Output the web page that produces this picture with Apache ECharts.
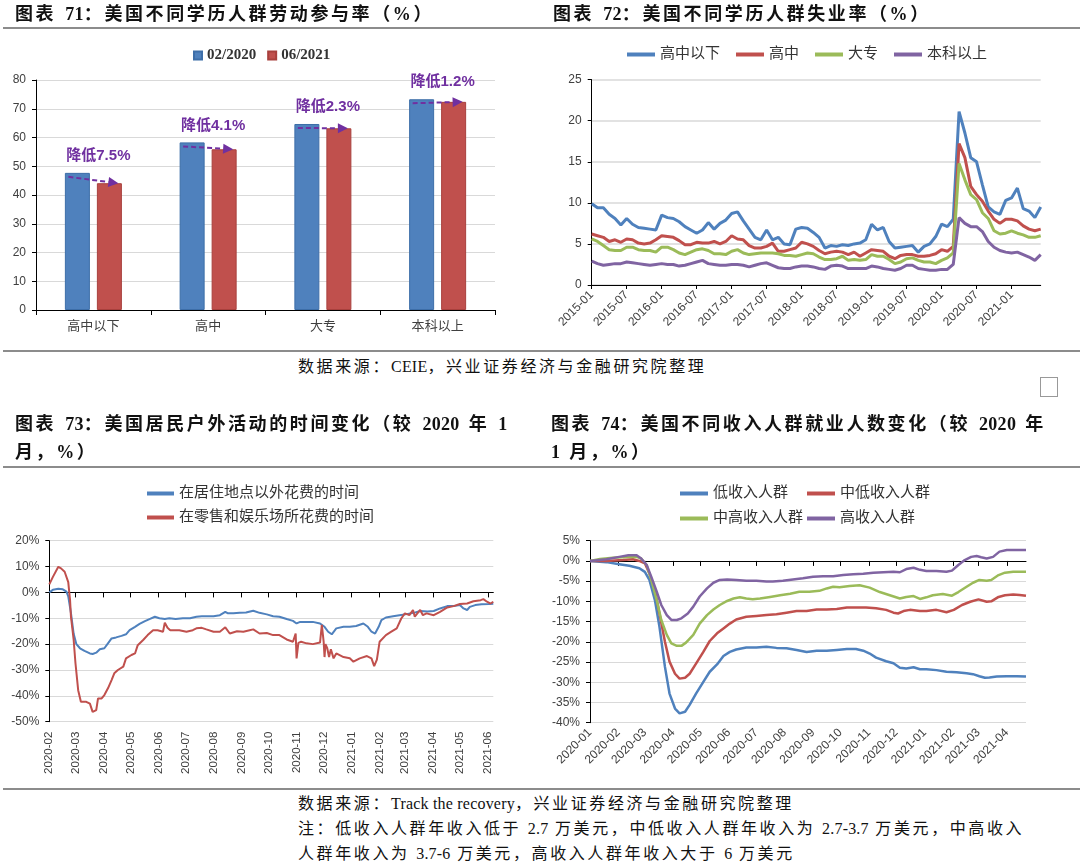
<!DOCTYPE html>
<html><head><meta charset="utf-8">
<script src="https://cdn.jsdelivr.net/npm/echarts@6/dist/echarts.min.js"></script>
<style>
body{margin:0;width:1080px;height:867px;background:#fff;position:relative;overflow:hidden}
.c{position:absolute}
.t{position:absolute;font-family:"Liberation Serif","Noto Sans CJK SC",serif;font-size:18px;font-weight:bold;letter-spacing:2.6px;color:#111;line-height:28px;white-space:nowrap}
.t .n{letter-spacing:0.3px}
.t .sp{display:inline-block;width:9px}
.s{position:absolute;font-family:"Liberation Serif","Noto Sans CJK SC",serif;font-size:16px;letter-spacing:2.6px;color:#111;line-height:25px;white-space:nowrap}
.s .n{letter-spacing:0.2px}
.hl{position:absolute;height:2px;background:#8c8c8c}
</style></head>
<body>
<div id="c71" class="c" style="left:0;top:0;width:540px;height:350px"></div>
<div id="c72" class="c" style="left:540px;top:0;width:540px;height:350px"></div>
<div id="c73" class="c" style="left:0;top:400px;width:540px;height:390px"></div>
<div id="c74" class="c" style="left:540px;top:400px;width:540px;height:390px"></div>

<div class="t" style="left:15px;top:0">图表<span class="sp"></span><span class="n">71</span>：美国不同学历人群劳动参与率（%）</div>
<div class="t" style="left:553px;top:0">图表<span class="sp"></span><span class="n">72</span>：美国不同学历人群失业率（%）</div>
<div class="hl" style="left:3px;top:27px;width:1077px"></div>
<div class="hl" style="left:3px;top:350px;width:1077px"></div>
<div class="s" style="left:298px;top:354px">数据来源：<span class="n">CEIE</span>，兴业证券经济与金融研究院整理</div>
<div style="position:absolute;left:1040px;top:377px;width:16px;height:18px;border:1px solid #999"></div>

<div class="t" style="left:15px;top:410px">图表<span class="sp"></span><span class="n">73</span>：美国居民户外活动的时间变化（较<span class="sp"></span><span class="n">2020</span><span class="sp"></span>年<span class="sp"></span><span class="n">1</span><br>月，%）</div>
<div class="t" style="left:551px;top:410px">图表<span class="sp"></span><span class="n">74</span>：美国不同收入人群就业人数变化（较<span class="sp"></span><span class="n">2020</span><span class="sp"></span>年<br><span class="n">1</span><span class="sp"></span>月，%）</div>
<div class="hl" style="left:3px;top:466px;width:1077px"></div>
<div class="hl" style="left:3px;top:788px;width:1077px"></div>
<div class="s" style="left:298px;top:791px">数据来源：<span class="n">Track the recovery</span>，兴业证券经济与金融研究院整理</div>
<div class="s" style="left:298px;top:816px">注：低收入人群年收入低于 <span class="n">2.7</span> 万美元，中低收入人群年收入为 <span class="n">2.7-3.7</span> 万美元，中高收入</div>
<div class="s" style="left:298px;top:841px">人群年收入为 <span class="n">3.7-6</span> 万美元，高收入人群年收入大于 <span class="n">6</span> 万美元</div>

<script>
// ---------- Chart 71 data ----------
const eduCats = ['高中以下','高中','大专','本科以上'];
const lfp2020 = [47.7, 58.3, 64.7, 73.3];
const lfp2021 = [44.1, 55.9, 63.2, 72.4];
const dropLabels = ['降低7.5%','降低4.1%','降低2.3%','降低1.2%'];

// ---------- Chart 72 data (monthly 2015-01 .. 2021-06) ----------
const urLessHS = [9.9,9.4,9.4,8.6,8.1,7.3,8.1,7.4,7.0,6.9, 6.8,6.7,8.5,8.2,8.1,7.7,7.1,6.7,6.3,6.7, 7.6,6.8,7.5,7.9,8.7,8.9,7.8,6.8,5.8,5.5, 6.7,5.5,5.8,5.0,4.9,6.8,7.0,6.9,6.4,5.8, 4.5,4.8,4.7,4.9,4.8,5.0,5.1,5.5,7.4,6.7, 7.0,5.3,4.5,4.6,4.7,4.8,4.0,4.7,5.0,5.9, 7.4,7.1,8.0,21.1,18.5,15.5,15.0,12.2,9.5,8.9, 8.6,10.3,10.6,11.8,9.3,9.0,8.2,9.5];
const urHS = [6.2,6.0,5.8,5.3,5.5,5.2,5.6,5.5,5.1,5.0, 5.1,5.5,6.0,5.9,5.8,5.4,4.9,4.9,5.2,5.1, 5.1,5.3,5.0,5.3,6.0,5.6,5.5,4.8,4.5,4.5, 4.7,5.1,4.1,4.1,4.3,4.5,5.2,5.0,4.7,4.2, 3.8,4.0,4.1,4.0,3.7,4.0,3.5,3.9,4.3,4.2, 4.1,3.5,3.2,3.6,3.7,3.7,3.5,3.5,3.6,3.8, 4.3,4.1,4.7,17.2,15.5,12.0,11.0,10.2,9.0,8.0, 7.5,8.0,8.0,7.8,7.2,6.8,6.6,6.8];
const urAssoc = [5.6,5.3,4.8,4.3,4.2,4.2,4.6,4.6,4.3,4.2, 4.2,4.0,4.6,4.6,4.3,3.9,3.7,4.0,4.3,4.4, 4.2,3.8,3.8,3.7,4.1,4.3,3.9,3.7,3.8,3.9, 3.9,3.9,3.8,3.6,3.6,3.5,3.7,3.9,3.8,3.4, 3.1,3.1,3.2,3.5,3.0,3.1,3.0,3.1,3.7,3.5, 3.5,3.1,2.6,2.8,3.2,3.3,3.0,2.8,2.8,2.6, 3.0,3.3,3.9,14.8,12.8,11.0,10.4,8.8,8.1,6.6, 6.2,6.3,6.6,6.3,6.1,5.8,5.8,6.0];
const urBach = [2.9,2.6,2.4,2.5,2.6,2.6,2.8,2.7,2.6,2.5, 2.4,2.5,2.6,2.5,2.5,2.3,2.4,2.6,2.8,3.0, 2.6,2.5,2.4,2.4,2.5,2.5,2.4,2.2,2.4,2.6, 2.7,2.4,2.1,2.0,2.0,2.2,2.3,2.3,2.2,2.0, 1.9,2.3,2.4,2.3,2.0,2.0,2.0,2.0,2.3,2.2, 2.0,1.9,1.8,2.0,2.4,2.4,2.0,1.9,1.8,1.8, 1.9,1.9,2.5,8.2,7.5,7.1,7.1,6.5,5.3,4.6, 4.2,4.0,3.9,4.0,3.7,3.4,3.0,3.7];

// ---------- Chart 73 data ----------
const outsideHome = [['2020-02-01',0],['2020-02-05',1.0],['2020-02-11',1.4],['2020-02-16',1.2],['2020-02-20',0.3],['2020-02-22',-1.5],['2020-02-25',-8],['2020-02-28',-16],['2020-03-02',-20],['2020-03-06',-21.6],['2020-03-11',-22.6],['2020-03-17',-23.6],['2020-03-20',-23.8],['2020-03-24',-23.3],['2020-03-28',-22],['2020-04-02',-21.6],['2020-04-06',-19.7],['2020-04-10',-17.8],['2020-04-15',-17.4],['2020-04-21',-16.8],['2020-04-26',-16.2],['2020-04-30',-14.6],['2020-05-06',-13.3],['2020-05-11',-12.2],['2020-05-17',-11.1],['2020-05-22',-10.3],['2020-05-28',-9.4],['2020-06-02',-10],['2020-06-08',-10.3],['2020-06-13',-10],['2020-06-20',-10.3],['2020-06-28',-10],['2020-07-06',-10],['2020-07-13',-9.4],['2020-07-19',-9.2],['2020-07-24',-9.2],['2020-08-01',-9.2],['2020-08-08',-8.8],['2020-08-14',-7.5],['2020-08-17',-8.1],['2020-08-23',-8.1],['2020-08-30',-7.9],['2020-09-06',-7.8],['2020-09-14',-7.1],['2020-09-21',-7.9],['2020-09-29',-8.5],['2020-10-06',-9.2],['2020-10-13',-9.4],['2020-10-21',-10.3],['2020-10-28',-11],['2020-11-01',-12],['2020-11-05',-11.4],['2020-11-12',-11.4],['2020-11-19',-11.4],['2020-11-27',-12],['2020-11-29',-11.4],['2020-12-02',-13.3],['2020-12-06',-15.2],['2020-12-10',-16.2],['2020-12-15',-13.9],['2020-12-23',-13.3],['2020-12-30',-13.3],['2021-01-06',-13],['2021-01-14',-12],['2021-01-19',-13.3],['2021-01-23',-15.2],['2021-01-27',-15.9],['2021-01-31',-13.3],['2021-02-03',-10.7],['2021-02-08',-9.7],['2021-02-16',-9.2],['2021-02-23',-8.8],['2021-03-03',-8.4],['2021-03-11',-7.9],['2021-03-18',-7.2],['2021-03-26',-7.4],['2021-04-02',-7.2],['2021-04-09',-6.2],['2021-04-17',-5.3],['2021-04-24',-5.3],['2021-05-01',-4.9],['2021-05-05',-6.2],['2021-05-09',-6.8],['2021-05-12',-5.6],['2021-05-18',-4.9],['2021-05-25',-4.6],['2021-06-02',-4.5],['2021-06-07',-4.4]];
const retailRec = [['2020-02-01',3.1],['2020-02-05',6],['2020-02-11',9.9],['2020-02-14',9.3],['2020-02-18',8],['2020-02-20',7.3],['2020-02-22',4],['2020-02-24',-3],['2020-02-25',-9.4],['2020-02-28',-18.4],['2020-03-01',-27.4],['2020-03-04',-37.8],['2020-03-07',-42.3],['2020-03-13',-42.3],['2020-03-17',-43],['2020-03-20',-46.2],['2020-03-24',-45.5],['2020-03-26',-41],['2020-03-30',-41],['2020-04-02',-39.7],['2020-04-06',-37.1],['2020-04-10',-33.9],['2020-04-13',-31.3],['2020-04-17',-30],['2020-04-23',-28.7],['2020-04-26',-25.5],['2020-05-02',-24.2],['2020-05-06',-23.6],['2020-05-09',-20.4],['2020-05-15',-18.4],['2020-05-20',-16.5],['2020-05-26',-14.6],['2020-05-31',-14.6],['2020-06-06',-15.2],['2020-06-08',-11.7],['2020-06-11',-13.7],['2020-06-14',-14.6],['2020-06-24',-14.6],['2020-07-02',-15.2],['2020-07-09',-14.6],['2020-07-13',-13.9],['2020-07-19',-13.7],['2020-07-24',-14.3],['2020-08-01',-15.2],['2020-08-08',-15.2],['2020-08-14',-13.5],['2020-08-19',-15.9],['2020-08-27',-15],['2020-09-03',-15.2],['2020-09-10',-14.6],['2020-09-14',-14.3],['2020-09-21',-15.9],['2020-09-29',-15.7],['2020-10-06',-16.5],['2020-10-13',-16.5],['2020-10-21',-18.2],['2020-10-28',-19.1],['2020-10-30',-19.5],['2020-10-31',-15.9],['2020-11-01',-25.5],['2020-11-03',-19.5],['2020-11-06',-19.1],['2020-11-12',-19.7],['2020-11-19',-20],['2020-11-27',-19.4],['2020-11-29',-12.5],['2020-12-01',-19],['2020-12-02',-25],['2020-12-03',-20],['2020-12-05',-21.6],['2020-12-07',-25],['2020-12-09',-22],['2020-12-12',-25.5],['2020-12-15',-23.6],['2020-12-23',-25],['2020-12-30',-25.5],['2021-01-03',-26.8],['2021-01-10',-25.5],['2021-01-18',-24.6],['2021-01-23',-25.5],['2021-01-26',-28.5],['2021-01-29',-26],['2021-02-01',-19.1],['2021-02-08',-16.5],['2021-02-14',-15.2],['2021-02-20',-13.9],['2021-02-25',-10.1],['2021-03-01',-8.1],['2021-03-06',-8.8],['2021-03-10',-6.8],['2021-03-12',-9.4],['2021-03-18',-6.8],['2021-03-21',-8.8],['2021-03-25',-8.1],['2021-04-02',-8.8],['2021-04-09',-7.5],['2021-04-17',-5.8],['2021-04-24',-5.3],['2021-05-01',-4.5],['2021-05-09',-4.3],['2021-05-16',-3.4],['2021-05-24',-3],['2021-05-27',-2.6],['2021-05-31',-3.6],['2021-06-04',-4.3],['2021-06-07',-3.6]];

// ---------- Chart 74 data ----------
const lowInc = [['2020-01-01',0],['2020-01-19',-0.3],['2020-02-02',-0.8],['2020-02-13',-1.2],['2020-02-24',-1.8],['2020-03-01',-2.7],['2020-03-06',-4.7],['2020-03-12',-9.7],['2020-03-17',-16.3],['2020-03-23',-26.2],['2020-03-28',-32.8],['2020-04-03',-36.5],['2020-04-08',-37.7],['2020-04-14',-37.3],['2020-04-19',-35.6],['2020-04-26',-32.8],['2020-05-04',-29.9],['2020-05-11',-27.4],['2020-05-19',-25.6],['2020-05-26',-23.5],['2020-06-02',-22.5],['2020-06-09',-21.9],['2020-06-20',-21.4],['2020-07-01',-21.4],['2020-07-12',-21.2],['2020-07-23',-21.5],['2020-08-03',-21.6],['2020-08-14',-22],['2020-08-25',-22.5],['2020-09-05',-22.2],['2020-09-16',-22.2],['2020-09-27',-22],['2020-10-08',-21.8],['2020-10-18',-21.8],['2020-10-26',-22.2],['2020-11-02',-22.9],['2020-11-09',-23.9],['2020-11-20',-24.8],['2020-11-28',-25.3],['2020-12-05',-26.4],['2020-12-12',-26.6],['2020-12-20',-26.3],['2020-12-27',-26.8],['2021-01-03',-26.8],['2021-01-14',-27],['2021-01-25',-27.4],['2021-02-05',-27.5],['2021-02-16',-27.8],['2021-02-23',-28],['2021-03-02',-28.5],['2021-03-08',-28.9],['2021-03-13',-28.8],['2021-03-21',-28.6],['2021-04-01',-28.5],['2021-04-12',-28.5],['2021-04-22',-28.6]];
const midLowInc = [['2020-01-01',0],['2020-01-19',0],['2020-02-06',0.2],['2020-02-17',0.4],['2020-02-24',0],['2020-03-01',-0.6],['2020-03-06',-3.1],['2020-03-12',-7.2],['2020-03-17',-13],['2020-03-23',-20],['2020-03-28',-24.9],['2020-04-03',-27.9],['2020-04-08',-29.1],['2020-04-14',-28.9],['2020-04-19',-27.9],['2020-04-26',-25.4],['2020-05-04',-22.5],['2020-05-11',-19.8],['2020-05-19',-17.9],['2020-05-26',-16.7],['2020-06-02',-15.5],['2020-06-09',-14.5],['2020-06-20',-13.8],['2020-07-01',-13.6],['2020-07-12',-13.4],['2020-07-23',-13.2],['2020-08-03',-12.8],['2020-08-14',-12.4],['2020-08-25',-12.4],['2020-09-05',-12],['2020-09-16',-12],['2020-09-27',-11.9],['2020-10-08',-11.5],['2020-10-18',-11.5],['2020-10-29',-11.5],['2020-11-09',-11.7],['2020-11-20',-12.1],['2020-11-28',-12.8],['2020-12-03',-13],['2020-12-09',-12.4],['2020-12-16',-12.1],['2020-12-27',-12.4],['2021-01-03',-12.4],['2021-01-14',-12.1],['2021-01-25',-12.7],['2021-02-02',-12.1],['2021-02-11',-10.9],['2021-02-20',-10.1],['2021-03-01',-9.5],['2021-03-10',-10.1],['2021-03-15',-10.0],['2021-03-23',-8.9],['2021-03-30',-8.5],['2021-04-08',-8.3],['2021-04-15',-8.4],['2021-04-22',-8.6]];
const midHighInc = [['2020-01-01',0],['2020-01-12',0.5],['2020-01-26',0.8],['2020-02-10',1.0],['2020-02-21',1.0],['2020-02-26',0.6],['2020-03-03',-1],['2020-03-08',-4.7],['2020-03-14',-9.7],['2020-03-19',-14.6],['2020-03-25',-18.3],['2020-03-30',-20.4],['2020-04-05',-21],['2020-04-10',-21],['2020-04-15',-20.2],['2020-04-23',-18.3],['2020-04-30',-15.5],['2020-05-08',-13.4],['2020-05-15',-12],['2020-05-22',-10.9],['2020-05-30',-9.9],['2020-06-06',-9.3],['2020-06-13',-9],['2020-06-20',-9.3],['2020-06-27',-9.5],['2020-07-05',-9.3],['2020-07-16',-8.9],['2020-07-27',-8.5],['2020-08-07',-8.1],['2020-08-17',-7.6],['2020-08-28',-7.6],['2020-09-08',-7.4],['2020-09-16',-6.8],['2020-09-23',-6.4],['2020-09-30',-6.5],['2020-10-11',-6.2],['2020-10-22',-6],['2020-11-02',-6.6],['2020-11-13',-7.7],['2020-11-24',-8.5],['2020-12-05',-9.3],['2020-12-12',-8.9],['2020-12-20',-8.7],['2020-12-27',-9.4],['2021-01-03',-9.0],['2021-01-10',-8.5],['2021-01-21',-8.2],['2021-01-31',-8.6],['2021-02-07',-7.7],['2021-02-16',-6.4],['2021-02-23',-5.4],['2021-03-02',-4.7],['2021-03-10',-4.9],['2021-03-15',-4.7],['2021-03-23',-3.5],['2021-03-30',-2.9],['2021-04-08',-2.7],['2021-04-15',-2.7],['2021-04-22',-2.7]];
const highInc = [['2020-01-01',0],['2020-01-19',0.4],['2020-02-02',1.0],['2020-02-12',1.4],['2020-02-21',1.4],['2020-02-26',0.6],['2020-03-03',-1],['2020-03-08',-3.9],['2020-03-14',-7.6],['2020-03-19',-10.9],['2020-03-25',-13.4],['2020-03-30',-14.6],['2020-04-05',-14.6],['2020-04-10',-14.2],['2020-04-17',-13],['2020-04-23',-11.3],['2020-04-30',-8.8],['2020-05-08',-6.8],['2020-05-15',-5.4],['2020-05-22',-4.7],['2020-05-30',-4.6],['2020-06-09',-4.7],['2020-06-20',-4.9],['2020-07-01',-4.9],['2020-07-12',-5.1],['2020-07-19',-5.1],['2020-07-30',-4.9],['2020-08-10',-4.6],['2020-08-21',-4.3],['2020-09-01',-3.9],['2020-09-12',-3.8],['2020-09-23',-3.8],['2020-10-04',-3.5],['2020-10-15',-3.3],['2020-10-26',-3.2],['2020-11-06',-2.9],['2020-11-17',-2.8],['2020-11-28',-2.7],['2020-12-05',-2.8],['2020-12-12',-2],['2020-12-20',-1.7],['2020-12-27',-2.2],['2021-01-03',-2.5],['2021-01-14',-2.5],['2021-01-25',-2.7],['2021-01-31',-2.4],['2021-02-07',-1],['2021-02-14',0.2],['2021-02-21',1.0],['2021-02-27',1.2],['2021-03-04',0.9],['2021-03-10',0.6],['2021-03-17',1.0],['2021-03-24',2.3],['2021-04-01',2.7],['2021-04-12',2.7],['2021-04-22',2.7]];

// ---------- helpers: axis categories ----------
function monthList(y0,m0,y1,m1){const o=[];let y=y0,m=m0;while(y<y1||(y===y1&&m<=m1)){o.push(y+'-'+String(m).padStart(2,'0'));m++;if(m>12){m=1;y++;}}return o;}
function dayList(a,b){const o=[];let t=Date.parse(a+'T00:00:00Z');const e=Date.parse(b+'T00:00:00Z');while(t<=e){o.push(new Date(t).toISOString().slice(0,10));t+=86400000;}return o;}
const months72 = monthList(2015,1,2021,6);
const days73 = dayList('2020-02-01','2021-06-07');
const days74 = dayList('2020-01-01','2021-04-22');

const BLUE='#4F81BD', RED='#C0504D', GREEN='#9BBB59', PURPLE='#8064A2', ANN='#7030A0';
const AX='#404040', GRID='#d9d9d9';
const sansF='"Liberation Sans","Noto Sans CJK SC",sans-serif';
const cjkF='"Liberation Serif","Noto Sans CJK SC",serif';
const isMonthStart=(i,v)=>String(v).endsWith('-01');

// ---------- Chart 71 ----------
const c71 = echarts.init(document.getElementById('c71'));
c71.setOption({
  animation:false,
  legend:{left:188,top:43,itemWidth:8,itemHeight:8,itemGap:11,icon:'rect',
    textStyle:{fontFamily:cjkF,fontSize:15,fontWeight:'bold',color:'#333'},
    data:['02/2020','06/2021']},
  grid:{left:36,top:80,width:459,height:230,containLabel:false,outerBoundsMode:'none'},
  xAxis:{type:'category',data:eduCats,
    axisLine:{lineStyle:{color:'#000',width:1}},
    axisTick:{show:true,length:5,lineStyle:{color:'#000'}},
    axisLabel:{fontFamily:sansF,fontSize:13,color:AX,margin:10}},
  yAxis:{type:'value',min:0,max:80,interval:10,
    axisLine:{show:true,lineStyle:{color:'#000'}},
    axisTick:{show:true,length:4,lineStyle:{color:'#000'}},
    axisLabel:{fontFamily:sansF,fontSize:12,color:AX,margin:10},
    splitLine:{lineStyle:{color:GRID}}},
  series:[
    {name:'02/2020',type:'bar',data:lfp2020,barWidth:25,barGap:'28%',itemStyle:{color:BLUE,borderColor:'#3d6ea8',borderWidth:1}},
    {name:'06/2021',type:'bar',data:lfp2021,barWidth:25,itemStyle:{color:RED,borderColor:'#a8403d',borderWidth:1}},
    {type:'custom',data:eduCats.map((c,i)=>[i,lfp2020[i],lfp2021[i]]),z:10,
      renderItem:function(params,api){
        const i=api.value(0);
        const p1=api.coord([i,api.value(1)]), p2=api.coord([i,api.value(2)]);
        const x1=p1[0]-25,y1=p1[1]+4,x2=p2[0]+25,y2=p2[1];
        const ang=Math.atan2(y2-y1,x2-x1), L=10, W=5;
        const bx=x2-L*Math.cos(ang), by=y2-L*Math.sin(ang);
        const nx=-Math.sin(ang)*W, ny=Math.cos(ang)*W;
        return {type:'group',children:[
          {type:'line',shape:{x1:x1,y1:y1,x2:bx,y2:by},style:{stroke:ANN,lineWidth:2,lineDash:[5,3]}},
          {type:'polygon',shape:{points:[[x2,y2],[bx+nx,by+ny],[bx-nx,by-ny]]},style:{fill:ANN}},
          {type:'text',style:{text:dropLabels[i],x:p1[0]+5,y:p1[1]-17,align:'center',verticalAlign:'middle',fill:ANN,font:'bold 15px "Liberation Sans","Noto Sans CJK SC",sans-serif'}}
        ]};
      }}
  ]
});

// ---------- Chart 72 ----------
const c72 = echarts.init(document.getElementById('c72'));
const lineS=(name,data,color,w)=>({name:name,type:'line',data:data,showSymbol:false,symbol:'none',lineStyle:{color:color,width:w},itemStyle:{color:color}});
c72.setOption({
  animation:false,
  legend:{left:82,top:42,itemWidth:28,itemHeight:4,itemGap:16,icon:'rect',
    textStyle:{fontFamily:cjkF,fontSize:15,color:'#333'},
    data:['高中以下','高中','大专','本科以上']},
  grid:{left:51.7,top:79.6,width:449,height:205.4,containLabel:false,outerBoundsMode:'none'},
  xAxis:{type:'category',data:months72,boundaryGap:false,
    axisLine:{lineStyle:{color:'#000'}},
    axisTick:{show:true,interval:5,length:4,lineStyle:{color:'#000'}},
    axisLabel:{interval:5,rotate:45,fontFamily:sansF,fontSize:12,color:AX,margin:8}},
  yAxis:{type:'value',min:0,max:25,interval:5,
    axisLine:{show:true,lineStyle:{color:'#000'}},
    axisTick:{show:true,length:4,lineStyle:{color:'#000'}},
    axisLabel:{fontFamily:sansF,fontSize:12,color:AX,margin:10},
    splitLine:{lineStyle:{color:GRID,width:1.5}}},
  series:[lineS('高中以下',urLessHS,BLUE,3),lineS('高中',urHS,RED,3),lineS('大专',urAssoc,GREEN,3),lineS('本科以上',urBach,PURPLE,3)]
});

// ---------- Chart 73 ----------
function dailyXAxes(days,rot){
  return [
    {type:'category',data:days,boundaryGap:false,
      axisLine:{onZero:true,lineStyle:{color:'#000',width:1}},
      axisTick:{show:true,interval:isMonthStart,length:5,lineStyle:{color:'#000'}},
      axisLabel:{show:false},splitLine:{show:false}},
    {type:'category',data:days,boundaryGap:false,position:'bottom',
      axisLine:{show:false,onZero:false},axisTick:{show:false},
      axisLabel:{interval:isMonthStart,formatter:v=>v.slice(0,7),rotate:rot,fontFamily:sansF,fontSize:rot===90?11.5:12,color:AX,margin:rot===90?10:8},
      splitLine:{show:false}}
  ];
}
const c73 = echarts.init(document.getElementById('c73'));
c73.setOption({
  animation:false,
  legend:{orient:'vertical',left:142,top:81,itemWidth:27,itemHeight:4,itemGap:9,icon:'rect',
    textStyle:{fontFamily:cjkF,fontSize:15,color:'#333'},
    data:['在居住地点以外花费的时间','在零售和娱乐场所花费的时间']},
  grid:{left:49.3,top:140.7,width:444,height:181,containLabel:false,outerBoundsMode:'none'},
  xAxis:dailyXAxes(days73,90),
  yAxis:{type:'value',min:-50,max:20,interval:10,
    axisLine:{show:true,lineStyle:{color:'#000'}},
    axisTick:{show:true,length:4,lineStyle:{color:'#000'}},
    axisLabel:{formatter:'{value}%',fontFamily:sansF,fontSize:12,color:AX,margin:10},
    splitLine:{lineStyle:{color:GRID}}},
  series:[lineS('在居住地点以外花费的时间',outsideHome,BLUE,2),lineS('在零售和娱乐场所花费的时间',retailRec,RED,2)]
});

// ---------- Chart 74 ----------
const c74 = echarts.init(document.getElementById('c74'));
const lg=(name,left,top)=>({left:left,top:top,itemWidth:28,itemHeight:4,icon:'rect',textStyle:{fontFamily:cjkF,fontSize:15,color:'#333'},data:[name]});
c74.setOption({
  animation:false,
  legend:[lg('低收入人群',135,81),lg('中低收入人群',262,81),lg('中高收入人群',135,106),lg('高收入人群',262,106)],
  grid:{left:50,top:140.7,width:436,height:182,containLabel:false,outerBoundsMode:'none'},
  xAxis:dailyXAxes(days74,45),
  yAxis:{type:'value',min:-40,max:5,interval:5,
    axisLine:{show:true,lineStyle:{color:'#000'}},
    axisTick:{show:true,length:4,lineStyle:{color:'#000'}},
    axisLabel:{formatter:'{value}%',fontFamily:sansF,fontSize:12,color:AX,margin:10},
    splitLine:{lineStyle:{color:GRID}}},
  series:[lineS('低收入人群',lowInc,BLUE,2.5),lineS('中低收入人群',midLowInc,RED,2.5),lineS('中高收入人群',midHighInc,GREEN,2.5),lineS('高收入人群',highInc,PURPLE,2.5)]
});
</script>
</body></html>
